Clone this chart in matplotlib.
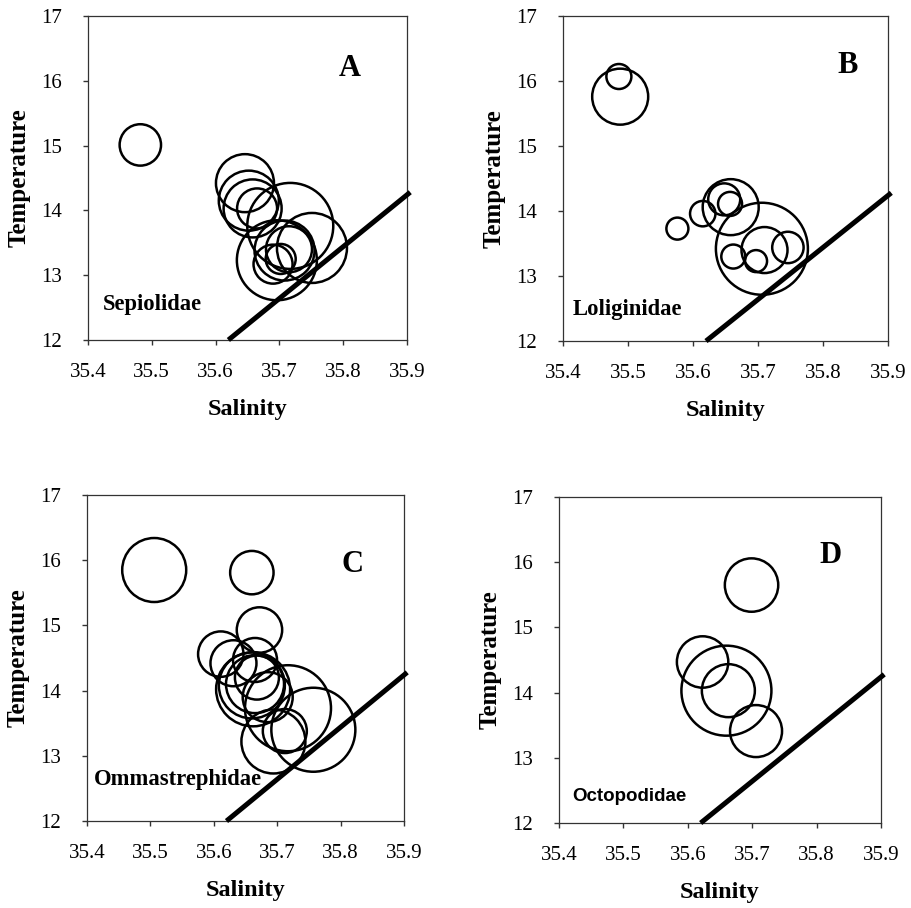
import matplotlib
matplotlib.use("Agg")
import matplotlib.pyplot as plt

# ---------------- data ----------------
# Panel A - Sepiolidae
a_sal = [35.482, 35.646, 35.652, 35.658, 35.665, 35.717, 35.751, 35.696, 35.708, 35.715, 35.690, 35.702]
a_tmp = [15.01, 14.42, 14.15, 14.03, 14.03, 13.76, 13.42, 13.23, 13.38, 13.40, 13.17, 13.25]
a_abn = [20.7, 29, 30, 29, 20, 43, 35, 40, 30, 23, 19.5, 15]

# Panel B - Loliginidae
b_sal = [35.486, 35.488, 35.576, 35.615, 35.648, 35.657, 35.658, 35.662, 35.706, 35.710, 35.697, 35.746]
b_tmp = [16.07, 15.76, 13.73, 13.96, 14.18, 14.11, 14.06, 13.30, 13.42, 13.40, 13.23, 13.44]
b_abn = [12.5, 28, 11, 12.7, 16, 12, 28, 12, 46, 23, 11, 15.7]

# Panel C - Ommastrephidae
c_sal = [35.506, 35.660, 35.672, 35.611, 35.631, 35.665, 35.662, 35.660, 35.665, 35.668,
         35.685, 35.717, 35.757, 35.694, 35.712]
c_tmp = [15.85, 15.81, 14.93, 14.56, 14.42, 14.47, 14.02, 14.08, 14.10, 14.20,
         13.90, 13.73, 13.40, 13.22, 13.38]
c_abn = [32, 21.7, 22.7, 22.7, 23, 22, 37, 33, 29, 22, 25, 43, 42, 32, 22]

# Panel D - Octopodidae
d_sal = [35.699, 35.623, 35.660, 35.663, 35.706]
d_tmp = [15.65, 14.47, 14.03, 14.03, 13.41]
d_abn = [26.7, 25.7, 45, 26.5, 26]

# reference line
line_sal = [35.62, 35.905]
line_tmp = [12.0, 14.28]

panel_letters = ["A", "B", "C", "D"]
family_names = ["Sepiolidae", "Loliginidae", "Ommastrephidae", "Octopodidae"]
x_ticks = [35.4, 35.5, 35.6, 35.7, 35.8, 35.9]
y_ticks = [12, 13, 14, 15, 16, 17]

# ---------------- figure ----------------
DPI = 100
fig = plt.figure(figsize=(9.12, 9.08), dpi=DPI)
fig.patch.set_facecolor("white")

serif = "Liberation Serif"

positions = [
    [0.0965, 0.6256, 0.3498, 0.3568],
    [0.6173, 0.6244, 0.3564, 0.3579],
    [0.0954, 0.0958, 0.3476, 0.3590],
    [0.6129, 0.0936, 0.3531, 0.3590],
]
datasets = [(a_sal, a_tmp, a_abn), (b_sal, b_tmp, b_abn),
            (c_sal, c_tmp, c_abn), (d_sal, d_tmp, d_abn)]
letter_pos = [(35.810, 16.07), (35.838, 16.12), (35.819, 15.82), (35.821, 15.99)]
name_pos = [(35.4235, 12.54), (35.415, 12.48), (35.411, 12.63), (35.420, 12.40)]

for i, (pos, (sal, tmp, abn)) in enumerate(zip(positions, datasets)):
    ax = fig.add_axes(pos)
    sizes = [(2 * r * 72 / DPI) ** 2 for r in abn]
    ax.scatter(sal, tmp, s=sizes, facecolors="none", edgecolors="black",
               linewidths=1.8, zorder=3)
    ax.plot(line_sal, line_tmp, color="black", lw=3.6, solid_capstyle="butt",
            clip_on=False, zorder=4)
    ax.set_xlim(35.4, 35.9)
    ax.set_ylim(12, 17)
    ax.set_xticks(x_ticks)
    ax.set_yticks(y_ticks)
    ax.set_xticklabels([f"{v:.1f}" for v in x_ticks], fontfamily=serif, fontsize=15)
    ax.set_yticklabels([str(v) for v in y_ticks], fontfamily=serif, fontsize=15)
    ax.tick_params(direction="out", length=3.5, width=1, color="#333333")
    ax.tick_params(axis="x", pad=13)
    ax.tick_params(axis="y", pad=15)
    for sp in ax.spines.values():
        sp.set_linewidth(0.9)
        sp.set_color("#333333")
    ax.set_xlabel("Salinity", fontfamily=serif, fontweight="bold", fontsize=17.5, labelpad=12.5)
    ax.set_ylabel("Temperature", fontfamily=serif, fontweight="bold", fontsize=18, labelpad=8)
    lx, ly = letter_pos[i]
    ax.text(lx, ly, panel_letters[i], fontfamily=serif, fontweight="bold", fontsize=22,
            ha="center", va="baseline")
    nx, ny = name_pos[i]
    if i == 3:
        ax.text(nx, ny, family_names[i], fontfamily="Liberation Sans", fontweight="bold",
                fontsize=13.5, ha="left", va="center")
    else:
        ax.text(nx, ny, family_names[i], fontfamily=serif, fontweight="bold",
                fontsize=16.3, ha="left", va="center")

fig.savefig("out.png", dpi=DPI, facecolor="white")
